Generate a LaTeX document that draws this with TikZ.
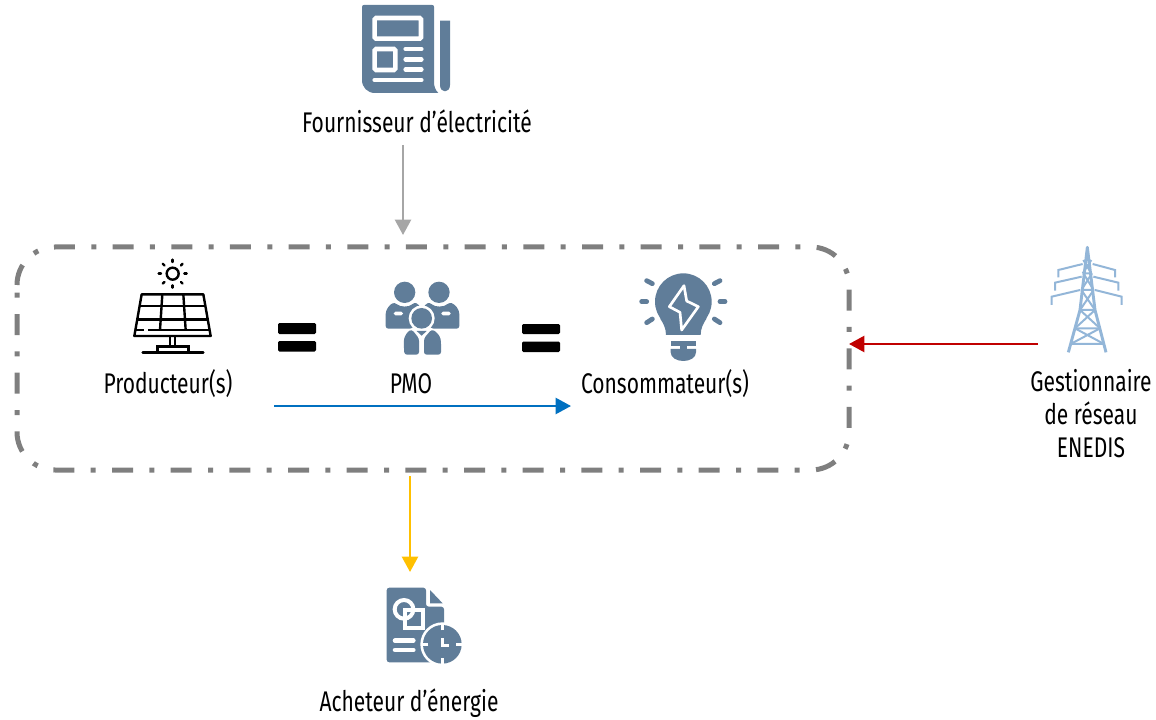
\documentclass[tikz,border=0pt]{standalone}
\usepackage{fontspec}
\setmainfont[FakeStretch=0.74]{Fira Sans}
\usetikzlibrary{arrows.meta}
\definecolor{iconblue}{HTML}{607D99}
\definecolor{pylonblue}{HTML}{93B6D8}
\definecolor{perimgray}{HTML}{7F7F7F}
\definecolor{feedgray}{HTML}{A6A6A6}
\definecolor{flowblue}{HTML}{0070C0}
\definecolor{gridred}{HTML}{C00000}
\definecolor{saleyellow}{HTML}{FFC000}
\tikzset{
  lbl/.style={font=\fontsize{21.3}{24.75}\selectfont, align=center, inner sep=0pt},
  perim/.style={minimum width=624pt, minimum height=167.25pt, inner sep=0pt, outer sep=0pt},
  perimline/.style={draw=perimgray, line width=3.75pt, rounded corners=28.5pt,
    dash pattern=on 15.75pt off 12.25pt on 3.75pt off 12.25pt},
  flow/.style={line width=1.8pt, -{Triangle[length=11.5pt,width=12pt]}},
  iconfill/.style={fill=iconblue},
  iconcut/.style={draw=white, line width=3.4pt, line cap=round},
  eqbar/.style={fill=black, rounded corners=1pt},
  solar/.style={draw=black, line width=1.8pt},
  pylon/.style={draw=pylonblue, line width=1.5pt}
}

\begin{document}
\begin{tikzpicture}[x=0.75pt,y=-0.75pt]
  \useasboundingbox (0,0) rectangle (1156,720);

  \node [perim] (perimeter) at (433,358.5) {};
  \draw [perimline] ([yshift=-28.5pt]perimeter.north west) -- (perimeter.north west)
    -- (perimeter.north east) -- (perimeter.south east) -- (perimeter.south west)
    -- ([yshift=-28.5pt]perimeter.north west);

  \node [lbl] (supplier) at (417,121) {Fournisseur d’électricité};
  \node [lbl] (producer) at (168,384) {Producteur(s)};
  \node [lbl] (pmo) at (411,384) {PMO};
  \node [lbl] (consumer) at (665,384) {Consommateur(s)};
  \node [lbl] (operator) at (1091,414) {Gestionnaire\\de réseau\\ENEDIS};
  \node [lbl] (buyer) at (409,703) {Acheteur d’énergie};

  \coordinate (supplierout) at (403,145);
  \coordinate (supplierin) at (403,235);
  \coordinate (operatorout) at (1038,344);
  \coordinate (flowstart) at (274,406);
  \coordinate (flowend) at (571,406);
  \coordinate (buyerout) at (410,476);
  \coordinate (buyerin) at (410,572);

  \draw [flow, feedgray] (supplierout) -- (supplierin);
  \draw [flow, gridred] (operatorout) -- (perimeter.east |- operatorout);
  \draw [flow, flowblue] (flowstart) -- (flowend);
  \draw [flow, saleyellow] (buyerout) -- (buyerin);

  % equal signs
  \fill [eqbar] (278,323) rectangle (316,334);
  \fill [eqbar] (278,341) rectangle (316,351.5);
  \fill [eqbar] (522,324) rectangle (560,334);
  \fill [eqbar] (522,341.5) rectangle (560,352);

  % newspaper
  \begin{scope}[shift={(340,0)},scale=1/3]
    \fill [iconfill] (72,15) -- (276,15) .. controls (280,15) and (282,17) .. (282,21) -- (282,245)
      .. controls (282,260) and (286,270) .. (295,279) -- (105,279)
      .. controls (82,279) and (66,262) .. (66,240) -- (66,21)
      .. controls (66,17) and (68,15) .. (72,15) -- cycle;
    \fill [iconfill] (300,62) -- (330,62) -- (330,255) .. controls (330,268) and (322,274) .. (315,274)
      .. controls (308,274) and (300,268) .. (300,255) -- cycle;
    \draw [iconcut, line cap=butt, rounded corners=1pt] (104,54) rectangle (243,116);
    \draw [iconcut, line cap=butt, rounded corners=1pt] (104,147) rectangle (166,210);
    \foreach \ypos in {147,178,209}
      \draw [iconcut] (197,\ypos) -- (244,\ypos);
    \draw [iconcut] (104,240) -- (244,240);
  \end{scope}

  % solar panel
  \begin{scope}[shift={(120,250)},scale=1/3]
    \draw [solar] (158,71) circle (18);
    \foreach \ang in {0,45,...,315}
      \draw [solar, line cap=round] (158,71) ++(\ang:35) -- ++(\ang:7);
    \draw [solar, line join=round] (65,133) -- (250,133) -- (272,258) -- (43,258) -- cycle;
    \draw [solar] (59,168) -- (256,168);
    \draw [solar] (52,208) -- (263,208);
    \draw [solar] (45,240) -- (72,240) (85,240) -- (267,240);
    \draw [solar] (127,133) -- (120,240);
    \draw [solar] (190,133) -- (197,240);
    \draw [solar] (150,258) -- (150,290);
    \draw [solar] (165,258) -- (165,290);
    \draw [solar] (112,307) -- (112,290) -- (205,290) -- (205,307);
    \draw [solar, line cap=round] (68,307) -- (250,307);
  \end{scope}

  % people
  \begin{scope}[shift={(370,270)},scale=1/3]
    \fill [iconfill] (104,67) circle (32);
    \fill [iconfill] (207,67) circle (32);
    \fill [iconfill, rounded corners=2pt] (47,176) -- (47,140) .. controls (47,118) and (60,103) .. (75,97)
      .. controls (90,112) and (118,112) .. (132,97) .. controls (140,100) and (147,106) .. (152,112)
      -- (152,176) -- cycle;
    \fill [iconfill, rounded corners=2pt] (268,176) -- (268,140) .. controls (268,118) and (255,103) .. (238,97)
      .. controls (222,112) and (194,112) .. (180,97) .. controls (172,100) and (165,106) .. (160,112)
      -- (160,176) -- cycle;
    \fill [white] (155,145) circle (39);
    \fill [white, line join=round] (94,262) -- (92,215) .. controls (96,190) and (112,172) .. (155,168)
      .. controls (198,172) and (214,190) .. (221,215) -- (221,262) -- cycle;
    \fill [iconfill] (155,145) circle (31);
    \fill [iconfill, rounded corners=2pt] (103,254) -- (101,215) .. controls (104,198) and (112,186) .. (125,178)
      -- (147,205) -- (147,254) -- cycle;
    \fill [iconfill, rounded corners=2pt] (213,254) -- (213,215) .. controls (210,198) and (200,186) .. (185,178)
      -- (162,205) -- (162,254) -- cycle;
    \fill [iconfill] (140,183) -- (170,183) -- (155,197) -- cycle;
    \fill [white, rounded corners=1.3pt] (71,125) rectangle (99,136);
    \fill [white, rounded corners=1.3pt] (214,125) rectangle (242,136);
  \end{scope}

  % bulb
  \begin{scope}[shift={(630,265)},scale=1/3]
    \fill [iconfill] (160,110) circle (85);
    \fill [iconfill] (90,160) .. controls (100,175) and (108,190) .. (108,210) -- (212,210)
      .. controls (212,190) and (220,175) .. (230,160) -- cycle;
    \draw [draw=white, fill=iconblue, line width=2pt, line join=round] (162,62) -- (118,125) -- (150,142)
      -- (155,195) -- (205,125) -- (170,108) -- cycle;
    \fill [iconfill] (122,228) rectangle (198,243);
    \fill [iconfill] (150,243) rectangle (170,252);
    \fill [iconfill] (122,252) -- (198,252) -- (198,262) .. controls (198,278) and (180,288) .. (160,288)
      .. controls (140,288) and (122,278) .. (122,262) -- cycle;
    \foreach \xa/\ya/\xb/\yb in {35/110/50/110, 270/110/285/110, 50/47/67/56, 253/56/270/47, 50/173/67/162, 253/162/270/173}
      \draw [iconblue, line width=3.6pt, line cap=round] (\xa,\ya) -- (\xb,\yb);
  \end{scope}

  % pylon
  \begin{scope}[shift={(1030,240)},scale=1/3]
    \draw [pylon, line width=2.2pt, line join=round] (115,337) -- (150,210) -- (172,22) -- (195,210) -- (228,337);
    \draw [pylon] (150,210) -- (195,210) (158,100) -- (186,100) (154,150) -- (191,150)
      (135,265) -- (210,265) (122,312) -- (222,312) (160,60) -- (184,100) (184,60) -- (158,100);
    \draw [pylon] (160,100) -- (191,150) (186,100) -- (154,150) (154,150) -- (195,210) (191,150) -- (150,210)
      (150,210) -- (210,265) (195,210) -- (135,265) (135,265) -- (222,312) (210,265) -- (122,312);
    \draw [pylon] (85,112) -- (85,90) -- (158,72) (188,72) -- (255,90) -- (255,112)
      (75,152) -- (75,128) -- (155,110) (190,110) -- (265,128) -- (265,152)
      (65,195) -- (65,170) -- (150,150) (195,150) -- (275,170) -- (275,195);
  \end{scope}

  % contract
  \begin{scope}[shift={(370,575)},scale=1/3]
    \fill [iconfill, rounded corners=2pt] (50,38) -- (168,38) -- (168,95) -- (222,95) -- (222,262) -- (50,262) -- cycle;
    \fill [iconfill] (180,45) -- (180,85) -- (218,85) -- cycle;
    \draw [iconcut, line width=3pt] (102,103) circle (28);
    \draw [iconcut, line width=3pt, line cap=butt] (104,105) rectangle (160,160);
    \draw [iconcut] (75,197) -- (130,197);
    \draw [iconcut] (75,225) -- (130,225);
    \fill [white] (217,208) circle (66);
    \fill [iconfill] (217,208) circle (58);
    \foreach \ang in {0,90,180,270}
      \draw [iconcut, line width=2.6pt, line cap=butt] (217,208) ++(\ang:42) -- ++(\ang:18);
    \draw [iconcut, line width=2.6pt, line cap=butt] (217,190) -- (217,212) -- (236,212);
  \end{scope}
\end{tikzpicture}
\end{document}
